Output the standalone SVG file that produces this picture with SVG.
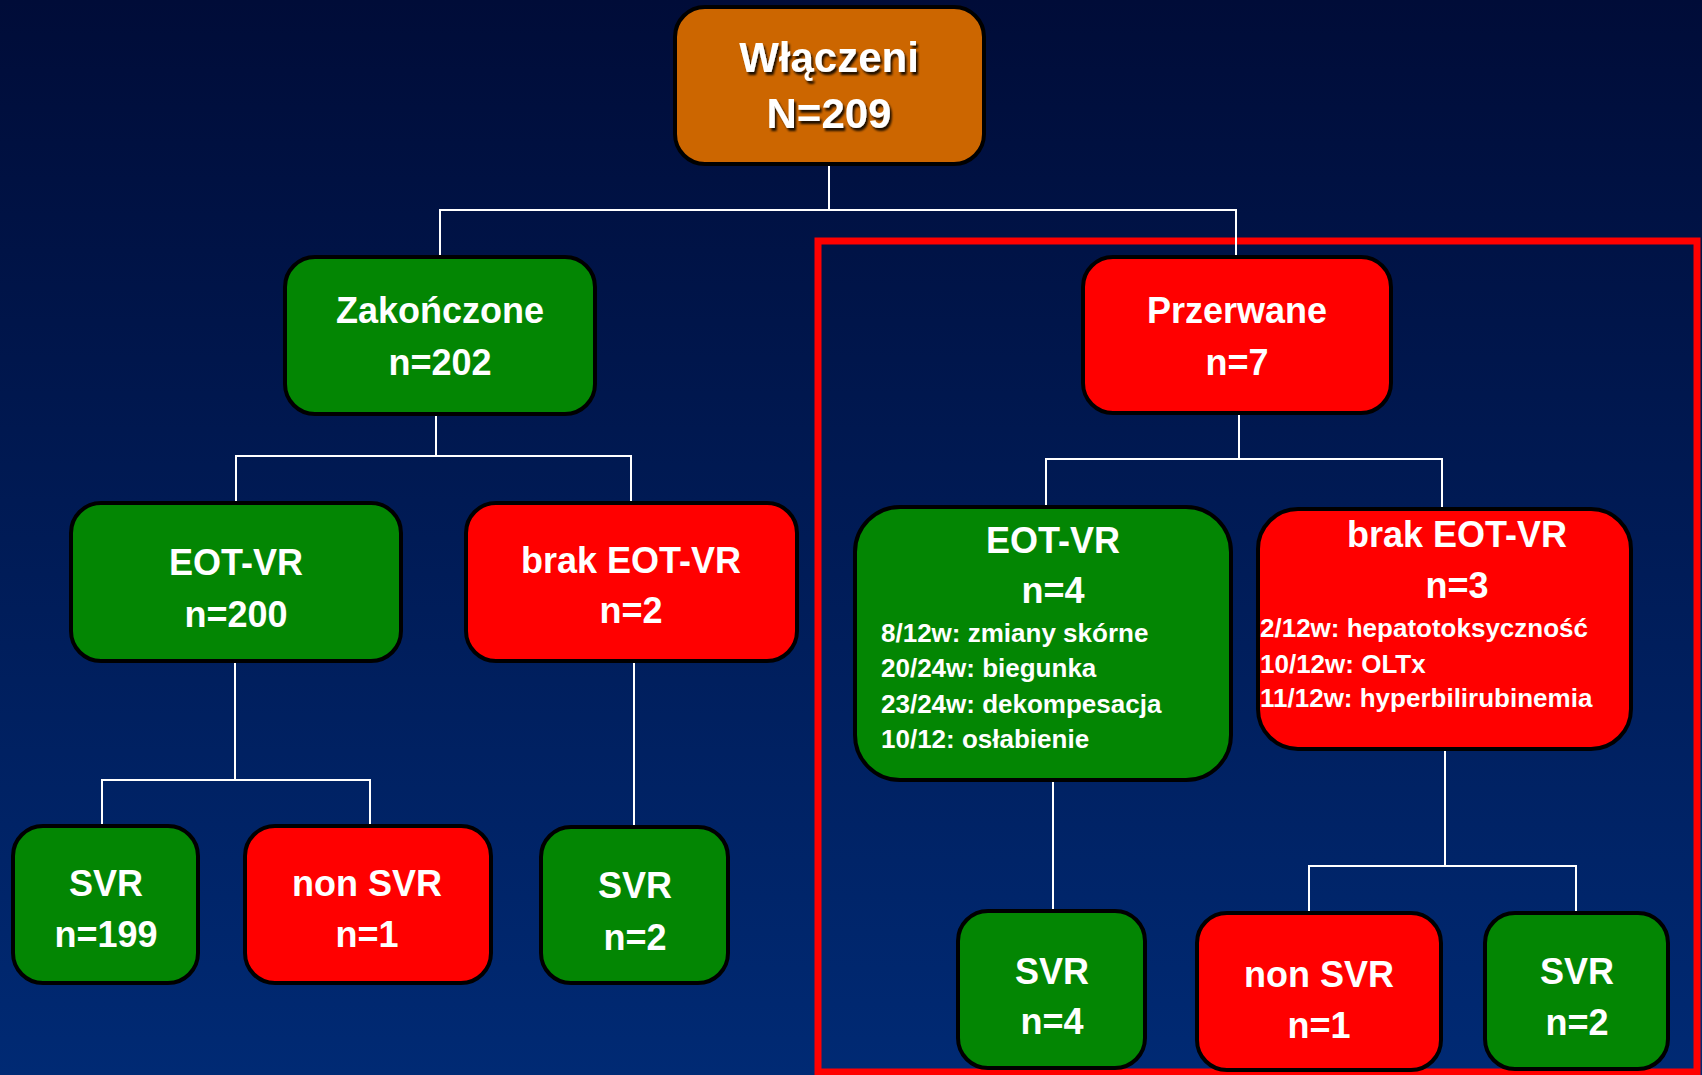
<svg xmlns="http://www.w3.org/2000/svg" width="1702" height="1075" viewBox="0 0 1702 1075">
<defs>
<linearGradient id="bg" x1="0" y1="0" x2="0" y2="1">
<stop offset="0" stop-color="#000c38"/>
<stop offset="1" stop-color="#002a74"/>
</linearGradient>
<filter id="sh" x="-10%" y="-10%" width="130%" height="140%">
<feDropShadow dx="2" dy="3" stdDeviation="1" flood-color="#000" flood-opacity="0.85"/>
</filter>
</defs>
<style>
.n rect{stroke:#000;stroke-width:4}
.g{fill:#038603}
.r{fill:#ff0000}
.o{fill:#cc6600}
text{font-family:"Liberation Sans",Arial,sans-serif;font-weight:bold;fill:#fff}
.t{font-size:36px;text-anchor:middle}
.d{font-size:26px}
.c line,.c polyline{stroke:#fff;stroke-width:2;fill:none}
</style>
<rect x="0" y="0" width="1702" height="1075" fill="url(#bg)"/>
<rect x="818" y="241" width="879" height="831" fill="none" stroke="#ff0000" stroke-width="7"/>
<g class="c">
<line x1="829" y1="166" x2="829" y2="210"/>
<polyline points="440,256 440,210 1236,210 1236,256"/>
<line x1="436" y1="416" x2="436" y2="456"/>
<polyline points="236,502 236,456 631,456 631,502"/>
<line x1="1239" y1="414" x2="1239" y2="459"/>
<polyline points="1046,505 1046,459 1442,459 1442,507"/>
<line x1="235" y1="663" x2="235" y2="780"/>
<polyline points="102,824 102,780 370,780 370,824"/>
<line x1="634" y1="663" x2="634" y2="825"/>
<line x1="1053" y1="782" x2="1053" y2="910"/>
<line x1="1445" y1="750" x2="1445" y2="866"/>
<polyline points="1309,912 1309,866 1576,866 1576,912"/>
</g>
<g id="wlaczeni" class="n">
<rect class="o" x="675" y="7" width="309" height="157" rx="30"/>
<g filter="url(#sh)">
<text class="t" x="829" y="72" style="font-size:42px">Włączeni</text>
<text class="t" x="829" y="128" style="font-size:42px">N=209</text>
</g>
</g>
<g id="zakonczone" class="n">
<rect class="g" x="285" y="257" width="310" height="157" rx="30"/>
<text class="t" x="440" y="323">Zakończone</text>
<text class="t" x="440" y="375">n=202</text>
</g>
<g id="przerwane" class="n">
<rect class="r" x="1083" y="257" width="308" height="156" rx="30"/>
<text class="t" x="1237" y="323">Przerwane</text>
<text class="t" x="1237" y="375">n=7</text>
</g>
<g id="eotvr200" class="n">
<rect class="g" x="71" y="503" width="330" height="158" rx="30"/>
<text class="t" x="236" y="575">EOT-VR</text>
<text class="t" x="236" y="627">n=200</text>
</g>
<g id="brak2" class="n">
<rect class="r" x="466" y="503" width="331" height="158" rx="30"/>
<text class="t" x="631" y="573">brak EOT-VR</text>
<text class="t" x="631" y="623">n=2</text>
</g>
<g id="eotvr4" class="n">
<rect class="g" x="855" y="507" width="376" height="273" rx="45"/>
<text class="t" x="1053" y="553">EOT-VR</text>
<text class="t" x="1053" y="603">n=4</text>
<text class="d" x="881" y="642">8/12w: zmiany skórne</text>
<text class="d" x="881" y="677">20/24w: biegunka</text>
<text class="d" x="881" y="713">23/24w: dekompesacja</text>
<text class="d" x="881" y="748">10/12: osłabienie</text>
</g>
<g id="brak3" class="n">
<rect class="r" x="1258" y="509" width="373" height="240" rx="40"/>
<text class="t" x="1457" y="547">brak EOT-VR</text>
<text class="t" x="1457" y="598">n=3</text>
<text class="d" x="1260" y="637">2/12w: hepatotoksyczność</text>
<text class="d" x="1260" y="673">10/12w: OLTx</text>
<text class="d" x="1260" y="707">11/12w: hyperbilirubinemia</text>
</g>
<g id="svr199" class="n">
<rect class="g" x="13" y="826" width="185" height="157" rx="30"/>
<text class="t" x="106" y="896">SVR</text>
<text class="t" x="106" y="947">n=199</text>
</g>
<g id="nonsvr1a" class="n">
<rect class="r" x="245" y="826" width="246" height="157" rx="30"/>
<text class="t" x="367" y="896">non SVR</text>
<text class="t" x="367" y="947">n=1</text>
</g>
<g id="svr2a" class="n">
<rect class="g" x="541" y="827" width="187" height="156" rx="30"/>
<text class="t" x="635" y="898">SVR</text>
<text class="t" x="635" y="950">n=2</text>
</g>
<g id="svr4" class="n">
<rect class="g" x="958" y="911" width="187" height="157" rx="30"/>
<text class="t" x="1052" y="984">SVR</text>
<text class="t" x="1052" y="1034">n=4</text>
</g>
<g id="nonsvr1b" class="n">
<rect class="r" x="1197" y="913" width="244" height="157" rx="30"/>
<text class="t" x="1319" y="987">non SVR</text>
<text class="t" x="1319" y="1038">n=1</text>
</g>
<g id="svr2b" class="n">
<rect class="g" x="1485" y="913" width="183" height="156" rx="30"/>
<text class="t" x="1577" y="984">SVR</text>
<text class="t" x="1577" y="1035">n=2</text>
</g>
</svg>
